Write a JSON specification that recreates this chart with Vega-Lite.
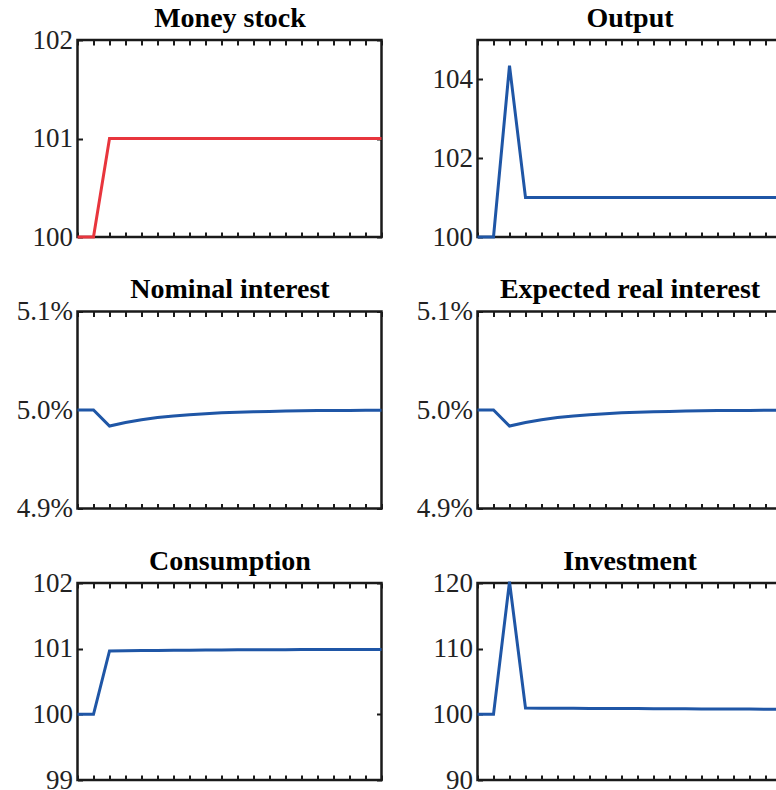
{
  "$schema": "https://vega.github.io/schema/vega-lite/v6.json",
  "padding": {"left": 14.5, "top": 3, "right": 0, "bottom": 0},
  "background": "white",
  "datasets": {
    "money": [{"t":0,"v":100},{"t":1,"v":100},{"t":2,"v":101},{"t":3,"v":101},{"t":4,"v":101},{"t":5,"v":101},{"t":6,"v":101},{"t":7,"v":101},{"t":8,"v":101},{"t":9,"v":101},{"t":10,"v":101},{"t":11,"v":101},{"t":12,"v":101},{"t":13,"v":101},{"t":14,"v":101},{"t":15,"v":101},{"t":16,"v":101},{"t":17,"v":101},{"t":18,"v":101},{"t":19,"v":101}],
    "output": [{"t":0,"v":100},{"t":1,"v":100},{"t":2,"v":104.35},{"t":3,"v":101},{"t":4,"v":101},{"t":5,"v":101},{"t":6,"v":101},{"t":7,"v":101},{"t":8,"v":101},{"t":9,"v":101},{"t":10,"v":101},{"t":11,"v":101},{"t":12,"v":101},{"t":13,"v":101},{"t":14,"v":101},{"t":15,"v":101},{"t":16,"v":101},{"t":17,"v":101},{"t":18,"v":101},{"t":19,"v":101}],
    "nominal": [{"t":0,"v":0.05},{"t":1,"v":0.05},{"t":2,"v":0.049837},{"t":3,"v":0.049873},{"t":4,"v":0.049901},{"t":5,"v":0.049923},{"t":6,"v":0.04994},{"t":7,"v":0.049953},{"t":8,"v":0.049963},{"t":9,"v":0.049971},{"t":10,"v":0.049978},{"t":11,"v":0.049983},{"t":12,"v":0.049986},{"t":13,"v":0.049989},{"t":14,"v":0.049992},{"t":15,"v":0.049994},{"t":16,"v":0.049995},{"t":17,"v":0.049996},{"t":18,"v":0.049997},{"t":19,"v":0.049998}],
    "real": [{"t":0,"v":0.05},{"t":1,"v":0.05},{"t":2,"v":0.049837},{"t":3,"v":0.049873},{"t":4,"v":0.049901},{"t":5,"v":0.049923},{"t":6,"v":0.04994},{"t":7,"v":0.049953},{"t":8,"v":0.049963},{"t":9,"v":0.049971},{"t":10,"v":0.049978},{"t":11,"v":0.049983},{"t":12,"v":0.049986},{"t":13,"v":0.049989},{"t":14,"v":0.049992},{"t":15,"v":0.049994},{"t":16,"v":0.049995},{"t":17,"v":0.049996},{"t":18,"v":0.049997},{"t":19,"v":0.049998}],
    "consumption": [{"t":0,"v":100},{"t":1,"v":100},{"t":2,"v":100.965},{"t":3,"v":100.968},{"t":4,"v":100.971},{"t":5,"v":100.973},{"t":6,"v":100.975},{"t":7,"v":100.977},{"t":8,"v":100.979},{"t":9,"v":100.98},{"t":10,"v":100.982},{"t":11,"v":100.983},{"t":12,"v":100.984},{"t":13,"v":100.985},{"t":14,"v":100.986},{"t":15,"v":100.987},{"t":16,"v":100.988},{"t":17,"v":100.988},{"t":18,"v":100.989},{"t":19,"v":100.989}],
    "investment": [{"t":0,"v":100},{"t":1,"v":100},{"t":2,"v":120.2},{"t":3,"v":100.95},{"t":4,"v":100.93},{"t":5,"v":100.92},{"t":6,"v":100.91},{"t":7,"v":100.9},{"t":8,"v":100.89},{"t":9,"v":100.88},{"t":10,"v":100.87},{"t":11,"v":100.86},{"t":12,"v":100.85},{"t":13,"v":100.84},{"t":14,"v":100.83},{"t":15,"v":100.82},{"t":16,"v":100.81},{"t":17,"v":100.8},{"t":18,"v":100.79},{"t":19,"v":100.78}]
  },
  "columns": 2,
  "bounds": "flush",
  "spacing": {"row": 74.5, "column": 96},
  "concat": [
    {
      "data": {"name": "money"}, "width": 304, "height": 197,
      "layer": [
        {"mark": {"type": "line", "color": "#E8353D", "strokeWidth": 3},
         "encoding": {
           "x": {"field": "t", "type": "quantitative", "scale": {"domain": [0, 19], "nice": false, "zero": false}, "axis": {"orient": "bottom", "values": [0,1,2,3,4,5,6,7,8,9,10,11,12,13,14,15,16,17,18,19], "labels": false, "title": null}},
           "y": {"field": "v", "type": "quantitative", "scale": {"domain": [100, 102], "nice": false, "zero": false}, "axis": {"orient": "left", "values": [100, 101, 102], "labelExpr": "format(datum.value, '.0f')", "labelOverlap": false, "labelBound": false, "title": null}}
         }},
        {"mark": {"type": "line", "opacity": 0},
         "encoding": {
           "x": {"field": "t", "type": "quantitative", "scale": {"domain": [0, 19], "nice": false, "zero": false}, "axis": {"orient": "top", "values": [0,1,2,3,4,5,6,7,8,9,10,11,12,13,14,15,16,17,18,19], "labels": false, "title": "Money stock"}},
           "y": {"field": "v", "type": "quantitative", "scale": {"domain": [100, 102], "nice": false, "zero": false}, "axis": {"orient": "right", "values": [100, 101, 102], "labels": false, "title": null}}
         }}
      ],
      "resolve": {"axis": {"x": "independent", "y": "independent"}}
    },
    {
      "data": {"name": "output"}, "width": 304, "height": 197,
      "layer": [
        {"mark": {"type": "line", "color": "#1F56A6", "strokeWidth": 3},
         "encoding": {
           "x": {"field": "t", "type": "quantitative", "scale": {"domain": [0, 19], "nice": false, "zero": false}, "axis": {"orient": "bottom", "values": [0,1,2,3,4,5,6,7,8,9,10,11,12,13,14,15,16,17,18,19], "labels": false, "title": null}},
           "y": {"field": "v", "type": "quantitative", "scale": {"domain": [100, 105], "nice": false, "zero": false}, "axis": {"orient": "left", "values": [100, 102, 104], "labelExpr": "format(datum.value, '.0f')", "labelOverlap": false, "title": null}}
         }},
        {"mark": {"type": "line", "opacity": 0},
         "encoding": {
           "x": {"field": "t", "type": "quantitative", "scale": {"domain": [0, 19], "nice": false, "zero": false}, "axis": {"orient": "top", "values": [0,1,2,3,4,5,6,7,8,9,10,11,12,13,14,15,16,17,18,19], "labels": false, "title": "Output"}},
           "y": {"field": "v", "type": "quantitative", "scale": {"domain": [100, 105], "nice": false, "zero": false}, "axis": {"orient": "right", "values": [100, 102, 104], "labels": false, "title": null}}
         }}
      ],
      "resolve": {"axis": {"x": "independent", "y": "independent"}}
    },
    {
      "data": {"name": "nominal"}, "width": 304, "height": 197,
      "layer": [
        {"mark": {"type": "line", "color": "#1F56A6", "strokeWidth": 3},
         "encoding": {
           "x": {"field": "t", "type": "quantitative", "scale": {"domain": [0, 19], "nice": false, "zero": false}, "axis": {"orient": "bottom", "values": [0,1,2,3,4,5,6,7,8,9,10,11,12,13,14,15,16,17,18,19], "labels": false, "title": null}},
           "y": {"field": "v", "type": "quantitative", "scale": {"domain": [0.049, 0.051], "nice": false, "zero": false}, "axis": {"orient": "left", "values": [0.049, 0.05, 0.051], "format": ".1%", "labelOverlap": false, "title": null}}
         }},
        {"mark": {"type": "line", "opacity": 0},
         "encoding": {
           "x": {"field": "t", "type": "quantitative", "scale": {"domain": [0, 19], "nice": false, "zero": false}, "axis": {"orient": "top", "values": [0,1,2,3,4,5,6,7,8,9,10,11,12,13,14,15,16,17,18,19], "labels": false, "title": "Nominal interest"}},
           "y": {"field": "v", "type": "quantitative", "scale": {"domain": [0.049, 0.051], "nice": false, "zero": false}, "axis": {"orient": "right", "values": [0.049, 0.05, 0.051], "labels": false, "title": null}}
         }}
      ],
      "resolve": {"axis": {"x": "independent", "y": "independent"}}
    },
    {
      "data": {"name": "real"}, "width": 304, "height": 197,
      "layer": [
        {"mark": {"type": "line", "color": "#1F56A6", "strokeWidth": 3},
         "encoding": {
           "x": {"field": "t", "type": "quantitative", "scale": {"domain": [0, 19], "nice": false, "zero": false}, "axis": {"orient": "bottom", "values": [0,1,2,3,4,5,6,7,8,9,10,11,12,13,14,15,16,17,18,19], "labels": false, "title": null}},
           "y": {"field": "v", "type": "quantitative", "scale": {"domain": [0.049, 0.051], "nice": false, "zero": false}, "axis": {"orient": "left", "values": [0.049, 0.05, 0.051], "format": ".1%", "labelOverlap": false, "title": null}}
         }},
        {"mark": {"type": "line", "opacity": 0},
         "encoding": {
           "x": {"field": "t", "type": "quantitative", "scale": {"domain": [0, 19], "nice": false, "zero": false}, "axis": {"orient": "top", "values": [0,1,2,3,4,5,6,7,8,9,10,11,12,13,14,15,16,17,18,19], "labels": false, "title": "Expected real interest"}},
           "y": {"field": "v", "type": "quantitative", "scale": {"domain": [0.049, 0.051], "nice": false, "zero": false}, "axis": {"orient": "right", "values": [0.049, 0.05, 0.051], "labels": false, "title": null}}
         }}
      ],
      "resolve": {"axis": {"x": "independent", "y": "independent"}}
    },
    {
      "data": {"name": "consumption"}, "width": 304, "height": 197,
      "layer": [
        {"mark": {"type": "line", "color": "#1F56A6", "strokeWidth": 3},
         "encoding": {
           "x": {"field": "t", "type": "quantitative", "scale": {"domain": [0, 19], "nice": false, "zero": false}, "axis": {"orient": "bottom", "values": [0,1,2,3,4,5,6,7,8,9,10,11,12,13,14,15,16,17,18,19], "labels": false, "title": null}},
           "y": {"field": "v", "type": "quantitative", "scale": {"domain": [99, 102], "nice": false, "zero": false}, "axis": {"orient": "left", "values": [99, 100, 101, 102], "labelExpr": "format(datum.value, '.0f')", "labelOverlap": false, "title": null}}
         }},
        {"mark": {"type": "line", "opacity": 0},
         "encoding": {
           "x": {"field": "t", "type": "quantitative", "scale": {"domain": [0, 19], "nice": false, "zero": false}, "axis": {"orient": "top", "values": [0,1,2,3,4,5,6,7,8,9,10,11,12,13,14,15,16,17,18,19], "labels": false, "title": "Consumption"}},
           "y": {"field": "v", "type": "quantitative", "scale": {"domain": [99, 102], "nice": false, "zero": false}, "axis": {"orient": "right", "values": [99, 100, 101, 102], "labels": false, "title": null}}
         }}
      ],
      "resolve": {"axis": {"x": "independent", "y": "independent"}}
    },
    {
      "data": {"name": "investment"}, "width": 304, "height": 197,
      "layer": [
        {"mark": {"type": "line", "color": "#1F56A6", "strokeWidth": 3},
         "encoding": {
           "x": {"field": "t", "type": "quantitative", "scale": {"domain": [0, 19], "nice": false, "zero": false}, "axis": {"orient": "bottom", "values": [0,1,2,3,4,5,6,7,8,9,10,11,12,13,14,15,16,17,18,19], "labels": false, "title": null}},
           "y": {"field": "v", "type": "quantitative", "scale": {"domain": [90, 120], "nice": false, "zero": false}, "axis": {"orient": "left", "values": [90, 100, 110, 120], "labelExpr": "format(datum.value, '.0f')", "labelOverlap": false, "title": null}}
         }},
        {"mark": {"type": "line", "opacity": 0},
         "encoding": {
           "x": {"field": "t", "type": "quantitative", "scale": {"domain": [0, 19], "nice": false, "zero": false}, "axis": {"orient": "top", "values": [0,1,2,3,4,5,6,7,8,9,10,11,12,13,14,15,16,17,18,19], "labels": false, "title": "Investment"}},
           "y": {"field": "v", "type": "quantitative", "scale": {"domain": [90, 120], "nice": false, "zero": false}, "axis": {"orient": "right", "values": [90, 100, 110, 120], "labels": false, "title": null}}
         }}
      ],
      "resolve": {"axis": {"x": "independent", "y": "independent"}}
    }
  ],
  "config": {
    "view": {"stroke": "#1a1a1a", "strokeWidth": 2.5},
    "axis": {
      "grid": false,
      "domain": false,
      "tickColor": "#1a1a1a",
      "tickWidth": 2,
      "tickSize": -5,
      "labelFont": "Liberation Serif",
      "labelFontSize": 27,
      "labelColor": "#222222",
      "labelPadding": 10,
      "labelFlush": false,
      "labelOverlap": false,
      "titleFont": "Liberation Serif",
      "titleFontSize": 28,
      "titleFontWeight": "bold",
      "titleColor": "#000000",
      "titlePadding": 12.7,
      "titleBaseline": "alphabetic"
    }
  }
}
